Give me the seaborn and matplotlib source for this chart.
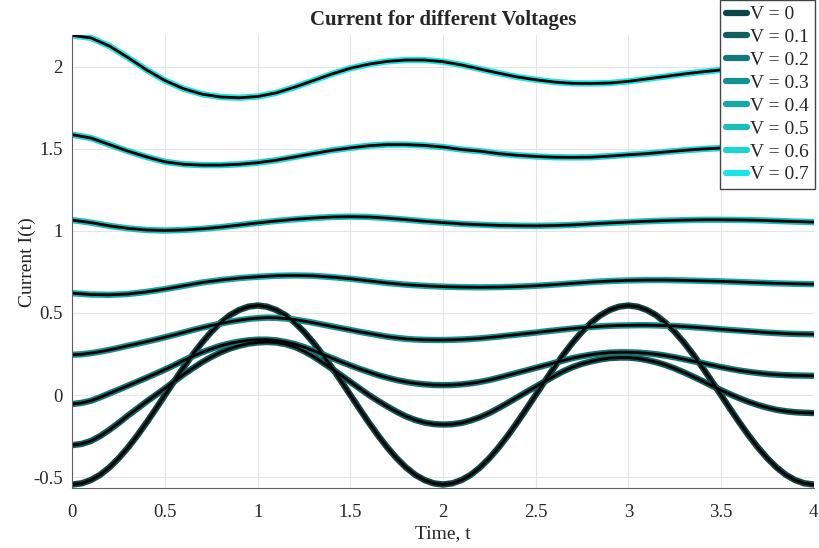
import numpy as np
import pandas as pd
import matplotlib
matplotlib.use('Agg')
import matplotlib.pyplot as plt
from matplotlib.lines import Line2D
from matplotlib.ticker import FormatStrFormatter
import seaborn as sns

# sample times: fine grid for the strongly oscillating curves, coarse for the others
t_fine = np.linspace(0, 4, 81)
t_coarse = np.linspace(0, 4, 41)

v_labels = ['V = 0', 'V = 0.1', 'V = 0.2', 'V = 0.3', 'V = 0.4', 'V = 0.5', 'V = 0.6', 'V = 0.7']

i_v00 = [-0.545, -0.538, -0.518, -0.486, -0.441, -0.385, -0.320, -0.247, -0.168, -0.085, 0.0,
         0.085, 0.168, 0.247, 0.320, 0.385, 0.441, 0.486, 0.518, 0.538, 0.545,
         0.538, 0.518, 0.486, 0.441, 0.385, 0.320, 0.247, 0.168, 0.085, 0.0,
         -0.085, -0.168, -0.247, -0.320, -0.385, -0.441, -0.486, -0.518, -0.538, -0.545,
         -0.538, -0.518, -0.486, -0.441, -0.385, -0.320, -0.247, -0.168, -0.085, 0.0,
         0.085, 0.168, 0.247, 0.320, 0.385, 0.441, 0.486, 0.518, 0.538, 0.545,
         0.538, 0.518, 0.486, 0.441, 0.385, 0.320, 0.247, 0.168, 0.085, 0.0,
         -0.085, -0.168, -0.247, -0.320, -0.385, -0.441, -0.486, -0.518, -0.538, -0.545]
i_v01 = [-0.305, -0.298, -0.280, -0.250, -0.212, -0.170, -0.125, -0.083, -0.040, 0.000, 0.040,
         0.083, 0.125, 0.163, 0.200, 0.232, 0.260, 0.283, 0.300, 0.313, 0.320,
         0.323, 0.320, 0.310, 0.293, 0.267, 0.235, 0.198, 0.160, 0.120, 0.080,
         0.040, 0.000, -0.036, -0.070, -0.102, -0.130, -0.152, -0.168, -0.177, -0.180,
         -0.178, -0.170, -0.155, -0.135, -0.110, -0.080, -0.048, -0.015, 0.018, 0.050,
         0.083, 0.115, 0.145, 0.170, 0.190, 0.205, 0.217, 0.225, 0.228, 0.228,
         0.223, 0.213, 0.200, 0.183, 0.162, 0.138, 0.112, 0.085, 0.057, 0.030,
         0.004, -0.020, -0.042, -0.061, -0.077, -0.090, -0.099, -0.105, -0.108, -0.110]
i_v02 = [-0.055, -0.048, -0.035, -0.014, 0.010, 0.033, 0.057, 0.081, 0.105, 0.130, 0.155,
         0.182, 0.210, 0.236, 0.260, 0.281, 0.300, 0.314, 0.325, 0.333, 0.337,
         0.337, 0.333, 0.323, 0.310, 0.292, 0.270, 0.248, 0.225, 0.202, 0.180,
         0.159, 0.140, 0.121, 0.105, 0.091, 0.080, 0.071, 0.065, 0.061, 0.060,
         0.061, 0.065, 0.071, 0.080, 0.091, 0.105, 0.120, 0.135, 0.150, 0.165,
         0.180, 0.195, 0.210, 0.225, 0.236, 0.246, 0.253, 0.258, 0.260, 0.260,
         0.258, 0.254, 0.248, 0.240, 0.230, 0.218, 0.206, 0.194, 0.182, 0.170,
         0.159, 0.149, 0.141, 0.134, 0.128, 0.124, 0.121, 0.119, 0.118, 0.117]
i_v03 = [0.245, 0.248, 0.255, 0.264, 0.275, 0.287, 0.300, 0.312, 0.325, 0.338, 0.352,
         0.366, 0.381, 0.396, 0.410, 0.423, 0.435, 0.446, 0.455, 0.463, 0.468,
         0.471, 0.470, 0.466, 0.459, 0.450, 0.440, 0.429, 0.418, 0.407, 0.396,
         0.385, 0.375, 0.365, 0.355, 0.348, 0.342, 0.338, 0.336, 0.335, 0.335,
         0.336, 0.338, 0.341, 0.345, 0.350, 0.356, 0.362, 0.368, 0.374, 0.380,
         0.387, 0.393, 0.399, 0.405, 0.410, 0.414, 0.418, 0.421, 0.423, 0.424,
         0.425, 0.425, 0.424, 0.422, 0.420, 0.417, 0.413, 0.409, 0.405, 0.400,
         0.396, 0.392, 0.388, 0.384, 0.380, 0.377, 0.374, 0.372, 0.371, 0.370]
i_v04 = [0.62, 0.612, 0.61, 0.615, 0.628, 0.645, 0.665, 0.685, 0.70, 0.712, 0.72,
         0.726, 0.728, 0.726, 0.718, 0.708, 0.695, 0.682, 0.672, 0.665, 0.66,
         0.657, 0.656, 0.657, 0.66, 0.665, 0.672, 0.68, 0.688, 0.694, 0.698,
         0.70, 0.70, 0.698, 0.695, 0.692, 0.688, 0.684, 0.68, 0.677, 0.675]
i_v05 = [1.065, 1.05, 1.03, 1.015, 1.005, 1.002, 1.005, 1.012, 1.022, 1.035, 1.048,
         1.06, 1.07, 1.078, 1.084, 1.086, 1.084, 1.077, 1.068, 1.058, 1.05,
         1.042, 1.037, 1.033, 1.031, 1.03, 1.032, 1.036, 1.042, 1.048, 1.053,
         1.058, 1.062, 1.065, 1.067, 1.067, 1.066, 1.064, 1.06, 1.056, 1.053]
i_v06 = [1.585, 1.565, 1.525, 1.485, 1.45, 1.42, 1.405, 1.40, 1.40, 1.405, 1.415,
         1.43, 1.45, 1.47, 1.49, 1.505, 1.518, 1.525, 1.525, 1.52, 1.51,
         1.495, 1.485, 1.47, 1.46, 1.453, 1.448, 1.447, 1.448, 1.455, 1.463,
         1.47, 1.48, 1.49, 1.498, 1.504, 1.51, 1.512, 1.513, 1.512, 1.51]
i_v07 = [2.19, 2.175, 2.125, 2.055, 1.98, 1.915, 1.865, 1.832, 1.815, 1.81, 1.818,
         1.84, 1.875, 1.915, 1.955, 1.99, 2.015, 2.032, 2.04, 2.04, 2.03,
         2.01, 1.985, 1.96, 1.937, 1.92, 1.906, 1.898, 1.897, 1.90, 1.91,
         1.925, 1.94, 1.955, 1.968, 1.98, 1.99, 1.995, 2.0, 2.0, 2.0]

series = [i_v00, i_v01, i_v02, i_v03, i_v04, i_v05, i_v06, i_v07]
times = [t_fine] * 4 + [t_coarse] * 4
colors = ['#0c4646', '#0f5f5f', '#127878', '#149191', '#16a8a8', '#18bfbf', '#1ad3d3', '#1de5e5']

df = pd.concat([pd.DataFrame({'t': tt, 'I': vals, 'V': lab})
                for tt, vals, lab in zip(times, series, v_labels)], ignore_index=True)

sns.set_style('white')
plt.rcParams['font.family'] = ['Liberation Serif', 'DejaVu Serif']
plt.rcParams['axes.unicode_minus'] = False

fig = plt.figure(figsize=(8.19, 5.48), dpi=100)
ax = fig.add_axes([0.0884, 0.109, 0.905, 0.827])

sns.lineplot(data=df, x='t', y='I', hue='V', hue_order=v_labels, palette=colors,
             units='V', estimator=None, linewidth=4.6, legend=False, ax=ax)
sns.lineplot(data=df, x='t', y='I', units='V', estimator=None, color='black',
             linewidth=2.0, legend=False, ax=ax)

ax.set_xlim(0, 4)
ax.set_ylim(-0.568, 2.192)
ax.set_xticks(np.arange(0, 4.01, 0.5))
ax.set_yticks(np.arange(-0.5, 2.01, 0.5))
ax.xaxis.set_major_formatter(FormatStrFormatter('%g'))
ax.yaxis.set_major_formatter(FormatStrFormatter('%g'))
ax.grid(True, color='#e4e4e4', linewidth=0.8)
ax.set_axisbelow(True)
for s in ['top', 'right']:
    ax.spines[s].set_visible(False)
for s in ['left', 'bottom']:
    ax.spines[s].set_color('#606060')
    ax.spines[s].set_linewidth(0.8)
ax.tick_params(direction='in', length=5, width=0.8, color='#606060',
               labelsize=13.5, labelcolor='#262626')
ax.tick_params(axis='x', pad=11)
ax.tick_params(axis='y', pad=7)

ax.set_title('Current for different Voltages', fontsize=15, fontweight='bold', pad=7)
ax.set_xlabel('Time, t', fontsize=14, color='#262626', labelpad=3)
ax.set_ylabel('Current I(t)', fontsize=14, color='#262626', labelpad=-2)

handles = [Line2D([0], [0], color=c, linewidth=4.5) for c in colors]
fig.legend(handles, v_labels, loc='upper right', bbox_to_anchor=(815 / 819, 548 / 548),
           frameon=True, fancybox=False, edgecolor='#444444', framealpha=1,
           fontsize=14, handlelength=1.1, handletextpad=0.15, labelspacing=0.27,
           borderpad=0.3, borderaxespad=0)

fig.savefig('out.png', dpi=100)
